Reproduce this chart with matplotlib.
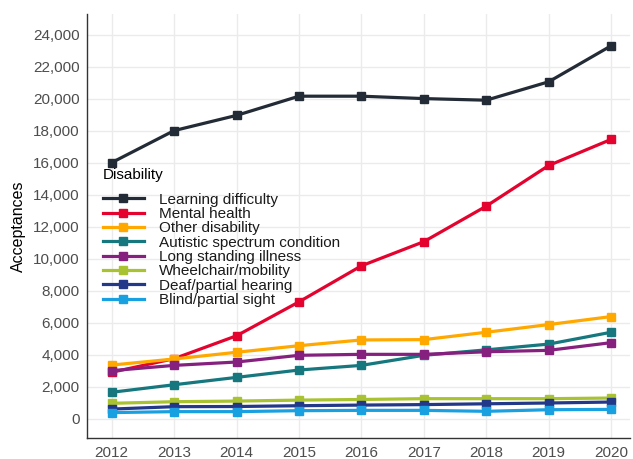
import numpy as np
import matplotlib
matplotlib.use('Agg')
import matplotlib.pyplot as plt
from matplotlib.ticker import FuncFormatter, MultipleLocator

plt.rcParams['font.family'] = ['Liberation Sans', 'DejaVu Sans']

years = [2012, 2013, 2014, 2015, 2016, 2017, 2018, 2019, 2020]

learning = [16000, 18000, 18950, 20150, 20150, 20000, 19900, 21050, 23300]
mental = [2900, 3750, 5180, 7300, 9550, 11060, 13280, 15820, 17450]
other = [3350, 3730, 4150, 4560, 4920, 4940, 5400, 5880, 6380]
autistic = [1650, 2120, 2580, 3040, 3330, 3960, 4300, 4660, 5400]
longstanding = [3000, 3330, 3540, 3960, 4020, 4020, 4180, 4270, 4750]
wheelchair = [960, 1060, 1100, 1160, 1200, 1250, 1250, 1250, 1290]
deaf = [600, 750, 760, 810, 850, 880, 930, 980, 1040]
blind = [380, 440, 440, 500, 520, 520, 460, 560, 580]

labels = ['Learning difficulty', 'Mental health', 'Other disability',
          'Autistic spectrum condition', 'Long standing illness',
          'Wheelchair/mobility', 'Deaf/partial hearing', 'Blind/partial sight']
series = [learning, mental, other, autistic, longstanding, wheelchair, deaf, blind]
COLORS = ['#232b36', '#e4032e', '#ffa900', '#17777e', '#86207f',
          '#a8c232', '#24388a', '#19a0e0']

fig = plt.figure(figsize=(6.33, 4.59), dpi=100)
ax = fig.add_axes([0.137, 0.046, 0.858, 0.924])

for vals, lab, c in zip(series, labels, COLORS):
    ax.plot(years, vals, color=c, lw=2.3, marker='s', ms=5.5, label=lab)

ax.set_xlim(2011.6, 2020.3)
ax.set_ylim(-1200, 25300)
ax.set_xticks(years)
ax.yaxis.set_major_locator(MultipleLocator(2000))
ax.yaxis.set_major_formatter(FuncFormatter(lambda v, p: '{:,.0f}'.format(v)))
ax.grid(True, color='#ebebeb', lw=1)
ax.set_axisbelow(True)
for s in ['top', 'right']:
    ax.spines[s].set_visible(False)
for s in ['left', 'bottom']:
    ax.spines[s].set_color('#333333')
    ax.spines[s].set_linewidth(1)
ax.tick_params(length=0, labelsize=11, colors='#4d4d4d', pad=5)
ax.tick_params(axis='x', pad=6)
ax.set_ylabel('Acceptances', fontsize=11.5, labelpad=5)

leg = ax.legend(title='Disability', loc='upper left', bbox_to_anchor=(0.015, 0.655),
                frameon=False, fontsize=11, title_fontsize=11,
                labelspacing=0.02, handlelength=2.7, handletextpad=1.0,
                borderpad=0.2, borderaxespad=0.3)
leg._legend_box.align = 'left'
leg._legend_box.sep = 8
for t in leg.get_texts():
    t.set_color('#1a1a1a')

fig.savefig('out.png', dpi=100)
